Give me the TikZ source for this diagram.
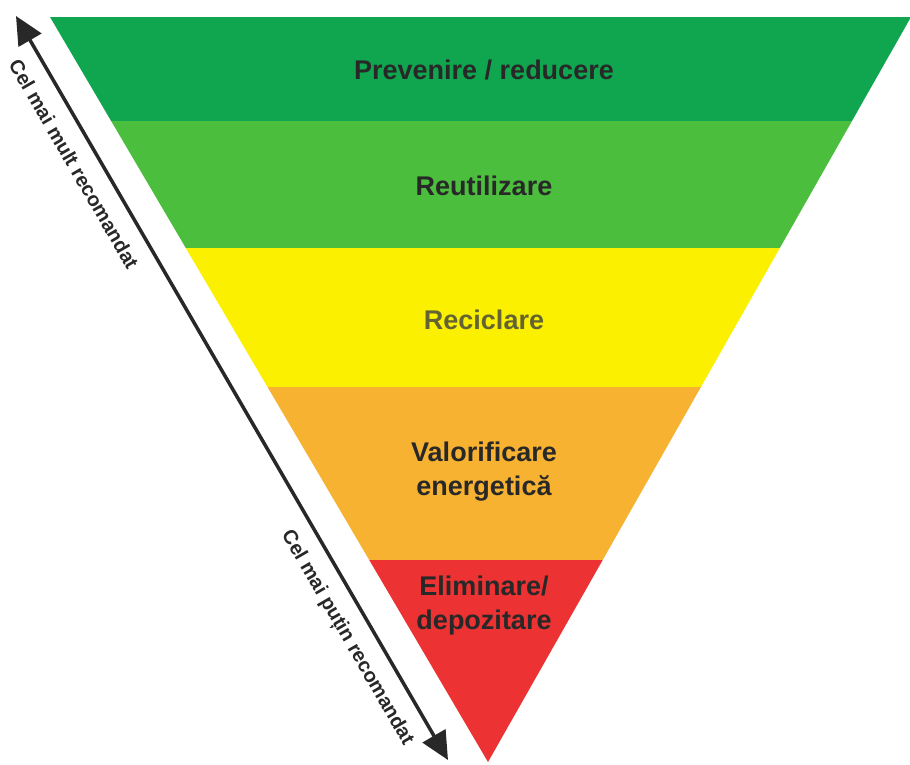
\documentclass[tikz,border=0pt]{standalone}
\usepackage{fontspec}
\setmainfont{Liberation Sans}
\usetikzlibrary{arrows.meta}
\definecolor{cdg}{RGB}{16,166,80}
\definecolor{cg}{RGB}{76,190,62}
\definecolor{cy}{RGB}{250,240,0}
\definecolor{co}{RGB}{246,178,48}
\definecolor{cr}{RGB}{236,50,50}
\definecolor{ctxt}{RGB}{40,40,40}
\definecolor{cyt}{RGB}{100,100,50}
\tikzset{
  lvl/.style={font=\fontsize{27}{34}\selectfont\bfseries, text=ctxt, align=center, inner sep=0pt},
  side/.style={font=\fontsize{20}{22}\selectfont\bfseries, text=ctxt, rotate=-59.9, inner sep=0pt},
  bigarrow/.style={line width=3.5pt, draw=ctxt, {Triangle[length=28pt,width=26pt]}-{Triangle[length=28pt,width=26pt]}}
}
\begin{document}
\begin{tikzpicture}[x=1pt,y=-1pt]
\useasboundingbox (0,0) rectangle (910,764);
\fill[white] (0,0) rectangle (910,764);
\begin{scope}
\clip (50,17) -- (911,17) -- (488,762) -- cycle;
\fill[cdg] (0,0) rectangle (910,121);
\fill[cg] (0,121) rectangle (910,248);
\fill[cy] (0,248) rectangle (910,387);
\fill[co] (0,387) rectangle (910,560);
\fill[cr] (0,560) rectangle (910,764);
\end{scope}
\node[lvl] (p) at (484,70) {Prevenire / reducere};
\node[lvl] (r) at (484,186) {Reutilizare};
\node[lvl, text=cyt] (c) at (484,320) {Reciclare};
\node[lvl] (v) at (484,472) {Valorificare\\energetică};
\node[lvl] (e) at (484,606) {Eliminare/\\depozitare};
\coordinate (a1) at (16,16);
\coordinate (a2) at (448,760);
\draw[bigarrow] (a1) -- (a2);
\node[side] (s1) at (74,164) {Cel mai mult recomandat};
\node[side] (s2) at (347,638) {Cel mai puțin recomandat};
\end{tikzpicture}
\end{document}
